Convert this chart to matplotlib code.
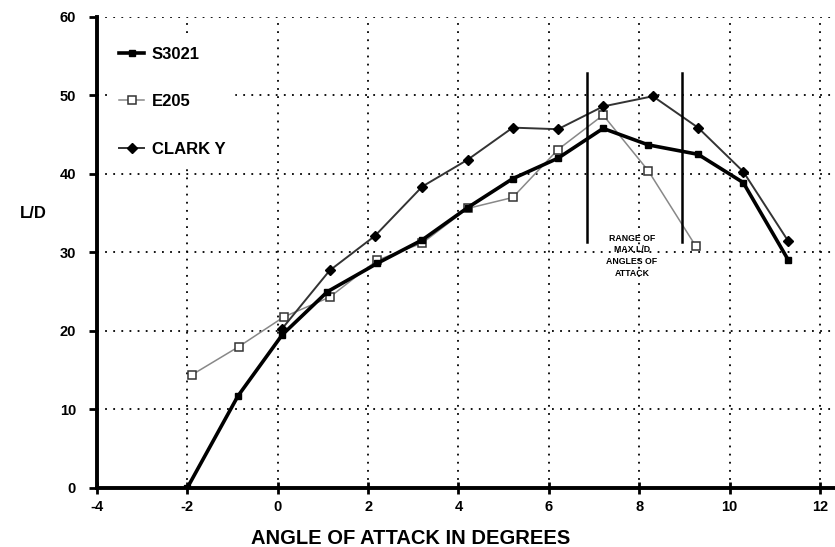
import matplotlib.pyplot as plt

plt.rcParams['font.family'] = ['Liberation Sans', 'DejaVu Sans']
plt.rcParams['font.weight'] = 'bold'
plt.rcParams['axes.unicode_minus'] = False

# L/D vs angle of attack
s3021_aoa = [-2.0, -0.88, 0.1, 1.1, 2.2, 3.2, 4.2, 5.2, 6.2, 7.2, 8.2, 9.3, 10.3, 11.3]
s3021_ld = [0.0, 11.7, 19.5, 25.0, 28.6, 31.6, 35.7, 39.4, 42.0, 45.8, 43.7, 42.5, 38.9, 29.0]

e205_aoa = [-1.9, -0.86, 0.14, 1.15, 2.2, 3.2, 4.2, 5.2, 6.2, 7.2, 8.2, 9.25]
e205_ld = [14.4, 18.0, 21.8, 24.3, 29.0, 31.2, 35.6, 37.0, 43.1, 47.5, 40.4, 30.8]

clarky_aoa = [0.1, 1.15, 2.15, 3.2, 4.2, 5.2, 6.2, 7.2, 8.3, 9.3, 10.3, 11.3]
clarky_ld = [20.3, 27.7, 32.1, 38.4, 41.8, 45.9, 45.7, 48.6, 49.9, 45.9, 40.3, 31.4]

range_bounds = [6.85, 8.95]
range_text = "RANGE OF\nMAX L/D\nANGLES OF\nATTACK"

x_ticks = [-4, -2, 0, 2, 4, 6, 8, 10, 12]
y_ticks = [0, 10, 20, 30, 40, 50, 60]

fig = plt.figure(figsize=(8.35, 5.47), dpi=100)
ax = fig.add_axes([0.116, 0.108, 0.884, 0.861])

ax.set_xlim(-4, 12.33)
ax.set_ylim(0, 60)
ax.set_xticks(x_ticks)
ax.set_yticks(y_ticks)
ax.grid(True, color='black', linestyle=(0, (1, 3.5)), linewidth=1.3)
ax.set_axisbelow(True)

for side in ['top', 'right']:
    ax.spines[side].set_visible(False)
for side in ['left', 'bottom']:
    ax.spines[side].set_linewidth(2.8)
ax.tick_params(axis='both', length=6, width=2, labelsize=10.5)
ax.tick_params(axis='y', pad=9)
ax.tick_params(axis='x', direction='inout', length=9, pad=4)

ax.plot(s3021_aoa, s3021_ld, color='black', lw=2.6, marker='s', ms=5,
        mfc='black', mec='black', label='S3021', zorder=4)
ax.plot(e205_aoa, e205_ld, color='#888888', lw=1.1, marker='s', ms=6,
        mfc='white', mec='#333333', mew=1.1, label='E205', zorder=3)
ax.plot(clarky_aoa, clarky_ld, color='#333333', lw=1.4, marker='D', ms=5,
        mfc='black', mec='black', label='CLARK Y', zorder=3)

for xb in range_bounds:
    ax.plot([xb, xb], [31.3, 52.9], color='black', lw=1.8, zorder=5)
ax.text(7.84, 32.4, range_text, ha='center', va='top', fontsize=6.3,
        fontweight='bold', linespacing=1.4)

leg = ax.legend(loc='upper left', bbox_to_anchor=(0.008, 0.972), frameon=True,
                fontsize=12, handlelength=1.5, labelspacing=1.95,
                borderpad=0.5, handletextpad=0.45)
leg.get_frame().set_edgecolor('white')
leg.get_frame().set_facecolor('white')
leg.get_frame().set_alpha(1)

fig.text(33 / 835, 1 - 213 / 547, 'L/D', ha='center', va='center',
         fontsize=12, fontweight='bold')
fig.text(411 / 835, 1 - 538 / 547, 'ANGLE OF ATTACK IN DEGREES', ha='center',
         va='center', fontsize=14.5, fontweight='bold')

fig.savefig('out.png', dpi=100)
